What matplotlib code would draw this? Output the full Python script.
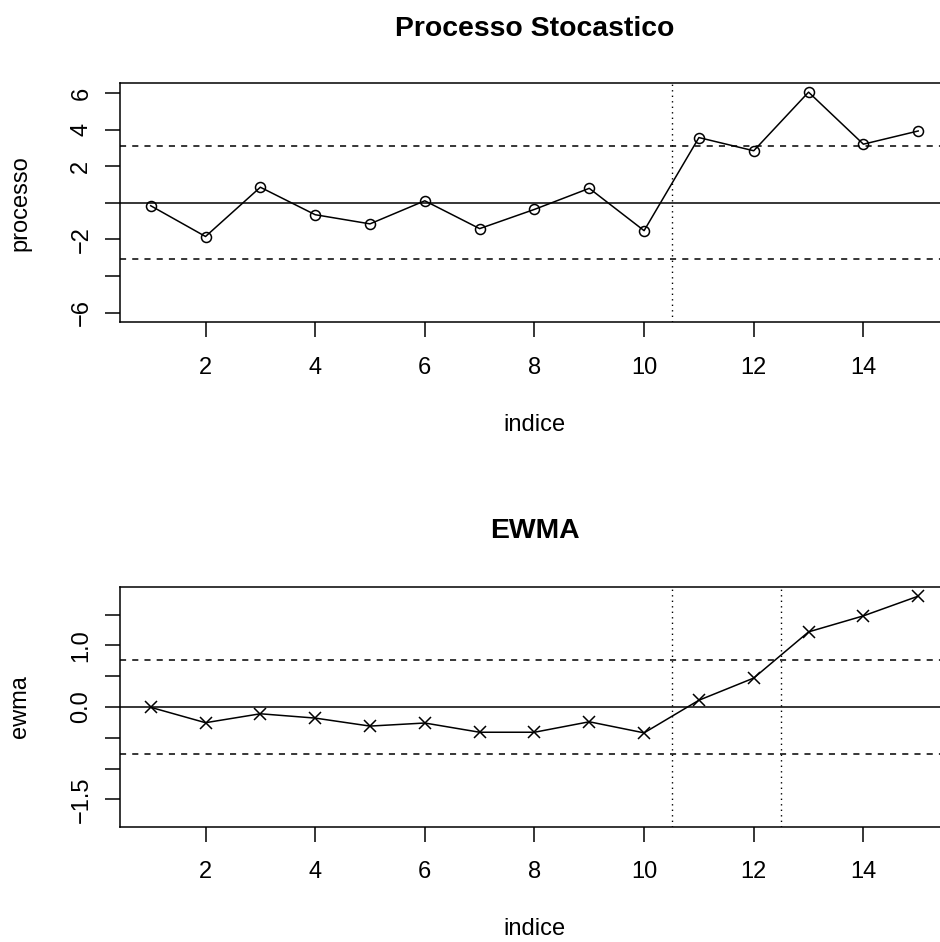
import matplotlib
matplotlib.use("Agg")
import matplotlib.pyplot as plt
import numpy as np

plt.rcParams['font.family'] = ['Liberation Sans', 'DejaVu Sans']

# ---- data ----
indice = list(range(1, 16))
processo = [-0.16, -1.84, 0.85, -0.65, -1.15, 0.11, -1.41, -0.36, 0.79, -1.52,
            3.56, 2.84, 6.04, 3.20, 3.92]
ewma = [-0.005, -0.255, -0.11, -0.18, -0.31, -0.26, -0.41, -0.41, -0.24, -0.42,
        0.11, 0.47, 1.22, 1.48, 1.80]
proc_limit = 3.08
ewma_limit = 0.765
proc_change = [10.5]
ewma_change = [10.5, 12.5]
xticks = [2, 4, 6, 8, 10, 12, 14]
proc_yticks = [-6, -4, -2, 0, 2, 4, 6]
proc_ylabels = ['\u22126', '', '\u22122', '', '2', '4', '6']
ewma_yticks = [-1.5, -1.0, -0.5, 0.0, 0.5, 1.0, 1.5]
ewma_ylabels = ['\u22121.5', '', '', '0.0', '', '1.0', '']

W, H = 940, 942
fig = plt.figure(figsize=(W / 100, H / 100), dpi=100)

LW = 1.1
FS = 17
TICK_PX = 15


def px_axes(left, right, top, bottom):
    return [left / W, 1 - bottom / H, (right - left) / W, (bottom - top) / H]


def panel(rect, y, lim, change, yticks, ylabels, marker, msize, title, ylabel, title_px):
    ax = fig.add_axes(rect)
    ax.plot(indice, y, color='black', lw=LW, marker=marker, ms=msize,
            mfc='none', mec='black', mew=LW, zorder=3)
    ax.axhline(0, color='black', lw=LW)
    ax.axhline(lim, color='black', lw=LW, linestyle=(0, (4, 4)))
    ax.axhline(-lim, color='black', lw=LW, linestyle=(0, (4, 4)))
    for c in change:
        ax.axvline(c, color='black', lw=LW * 0.9, linestyle=(0, (1, 3)))
    n = len(indice)
    xr = indice[-1] - indice[0]
    ax.set_xlim(indice[0] - 0.04 * xr, indice[-1] + 0.04 * xr)
    m = max(abs(v) for v in y)
    ax.set_ylim(-m * 1.08, m * 1.08)
    ax.set_xticks(xticks)
    ax.set_xticklabels([str(t) for t in xticks])
    ax.set_yticks(yticks)
    ax.set_yticklabels(ylabels)
    ax.tick_params(axis='both', direction='out', length=TICK_PX * 0.72, width=LW,
                   labelsize=FS, colors='black')
    ax.tick_params(axis='x', pad=14.2)
    ax.tick_params(axis='y', pad=12.7)
    for lab in ax.get_yticklabels():
        lab.set_rotation(90)
        lab.set_rotation_mode('anchor')
        lab.set_ha('center')
        lab.set_va('baseline')
    ax.spines['bottom'].set_visible(False)
    ax.spines['top'].set_visible(True)
    for s in ax.spines.values():
        s.set_linewidth(LW)
        s.set_color('black')
    ax.spines['bottom'].set_visible(True)
    # R-style axis lines only span the tick range; frame drawn as box
    hpx = rect[3] * H
    ax.text(0.5, 1 + title_px / hpx, title, transform=ax.transAxes,
            ha='center', va='baseline', fontsize=FS * 1.2, fontweight='bold')
    ax.set_xlabel('indice', fontsize=FS)
    ax.xaxis.label.set_va('baseline')
    ax.xaxis.set_label_coords(0.5, -108.5 / hpx)
    ax.set_ylabel(ylabel, fontsize=FS)
    ax.yaxis.label.set_rotation_mode('anchor')
    ax.yaxis.label.set_va('baseline')
    ax.yaxis.label.set_ha('center')
    ax.yaxis.set_label_coords((26.5 - 120) / (rect[2] * W), 0.5)
    return ax


panel(px_axes(120, 948.9, 83.3, 322.3), processo, proc_limit, proc_change,
      proc_yticks, proc_ylabels, 'o', 7.2, 'Processo Stocastico', 'processo', 47.3)
panel(px_axes(120, 948.9, 587.3, 826.7), ewma, ewma_limit, ewma_change,
      ewma_yticks, ewma_ylabels, 'x', 8, 'EWMA', 'ewma', 49.5)

fig.savefig('out.png', dpi=100, facecolor='white')
